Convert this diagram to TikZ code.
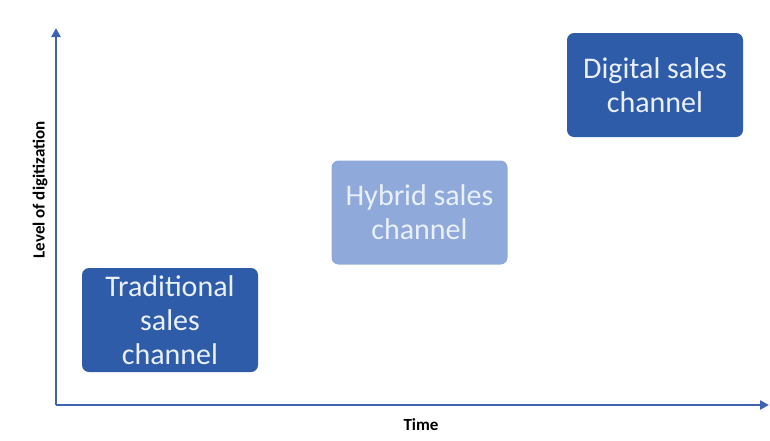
\documentclass[tikz,border=0pt]{standalone}
\usepackage{fontspec}
\setmainfont{Carlito}
\usetikzlibrary{arrows.meta}
\definecolor{darkbox}{HTML}{2E5CA8}
\definecolor{lightbox}{HTML}{8EA9DA}
\definecolor{boxtext}{HTML}{EAF0FA}
\definecolor{axisblue}{HTML}{3C64B1}
\tikzset{
  box/.style={rounded corners=7pt,minimum width=176pt,minimum height=104pt,align=center,text=boxtext,font=\fontsize{30}{34}\selectfont},
  axislabel/.style={font=\bfseries\fontsize{17}{19}\selectfont}
}
\begin{document}
\begin{tikzpicture}[x=1pt,y=-1pt]
      \useasboundingbox (0,0) rectangle (770,440);
      \coordinate (o) at (56,405);
      \coordinate (t) at (56,28);
      \coordinate (e) at (769,405);
      \node[box,fill=darkbox] (1) at (170,320) {Traditional\\sales\\channel};
      \node[box,fill=lightbox] (2) at (419.5,212.5) {Hybrid sales\\channel};
      \node[box,fill=darkbox] (3) at (655,85) {Digital sales\\channel};
      \node[axislabel,rotate=90] (4) at (40,190) {Level of digitization};
      \node[axislabel] (5) at (421,425) {Time};

      \draw[axisblue,line width=2.5pt,-{Triangle[length=9pt,width=9pt]}] (o) -- (t);
      \draw[axisblue,line width=2.5pt,-{Triangle[length=9pt,width=9pt]}] (o) -- (e);
    \end{tikzpicture}
\end{document}
